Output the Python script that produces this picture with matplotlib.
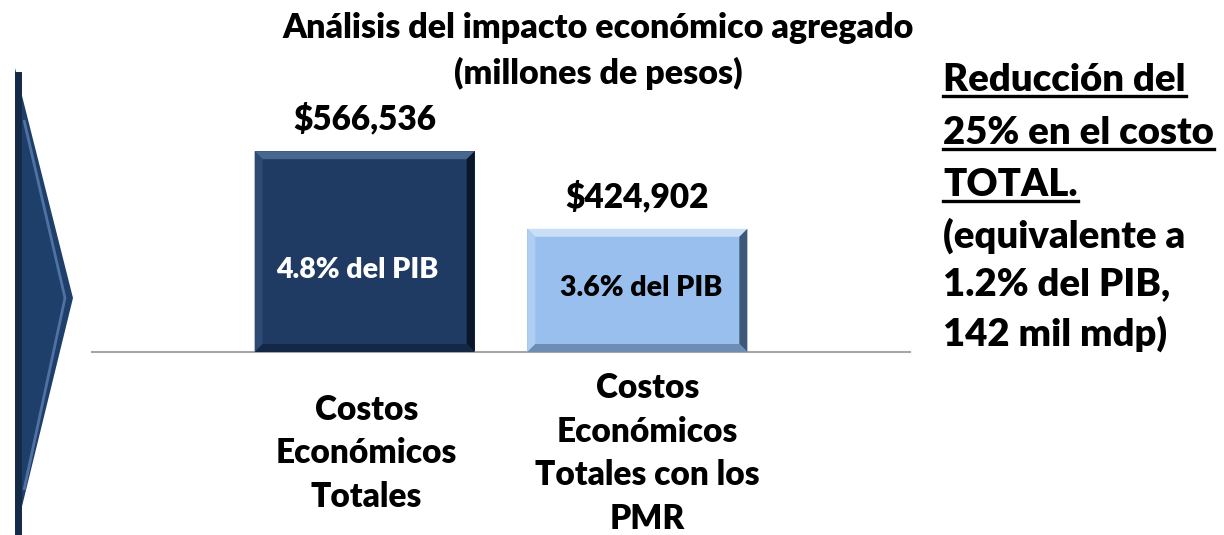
"""Análisis del impacto económico agregado: two bevelled bars plus side note."""

import matplotlib
matplotlib.use("Agg")
import matplotlib.pyplot as plt
from matplotlib.patches import Polygon
from matplotlib.transforms import IdentityTransform, ScaledTranslation

W, H = 1224, 535

categories = ["Costos\nEconómicos\nTotales", "Costos\nEconómicos\nTotales con los\nPMR"]
values = [566536, 424902]
value_labels = ["$566,536", "$424,902"]
pib_labels = ["4.8% del PIB", "3.6% del PIB"]
title_lines = ["Análisis del impacto económico agregado", "(millones de pesos)"]
note_underlined = ["Reducción del", "25% en el costo", "TOTAL."]
note_plain = ["(equivalente a", "1.2% del PIB,", "142 mil mdp)"]

FONT = "Lato"
plt.rcParams["font.family"] = [FONT, "DejaVu Sans"]
plt.rcParams["font.weight"] = "heavy"
WT = "heavy"

bar_colors = ["#1f3b64", "#99bfee"]
bevel_colors = [  # top, left, right, bottom
  ["#48678f", "#2c4a74", "#0b1628", "#142845"],
  ["#c9dff8", "#b0cdf2", "#3d5878", "#6e8db5"],
]
pib_colors = ["white", "black"]


def fig_xy(px, py):
  """pixel (from top-left) -> figure fraction"""
  return px / W, 1 - py / H


fig = plt.figure(figsize=(W / 100, H / 100), dpi=100)
ax = fig.add_axes([92 / W, (H - 352) / H, 818 / W, 252 / H])

x = list(range(len(values)))
bars = ax.bar(x, values, width=0.807, bottom=0, color=bar_colors, zorder=2)
ax.set_xlim(-1, 2)
ax.set_ylim(200000, 660000)

for s in ["top", "left", "right"]:
  ax.spines[s].set_visible(False)
ax.spines["bottom"].set_color("#a6a6a6")
ax.spines["bottom"].set_linewidth(1.5)
ax.set_yticks([])
ax.set_xticks(x)
ax.set_xticklabels(categories, fontsize=24, fontweight=WT, linespacing=1.45)
ax.tick_params(axis="x", length=0, pad=73)
label_dx = [2, 10]  # px nudge, as in the original slide
for lab, dx in zip(ax.get_xticklabels(), label_dx):
  lab.set_verticalalignment("center")
  lab.set_multialignment("center")
  lab.set_transform(lab.get_transform()
                    + ScaledTranslation(dx / 100, 0, fig.dpi_scale_trans))

# bevel edges drawn in display pixels around each bar
bev = 8
for bar, cols in zip(bars, bevel_colors):
  bb = bar.get_window_extent()
  x0, y0, x1, y1 = bb.x0, max(bb.y0, ax.get_window_extent().y0), bb.x1, bb.y1
  quads = [
    [(x0, y1), (x1, y1), (x1 - bev, y1 - bev), (x0 + bev, y1 - bev)],
    [(x0, y0), (x0, y1), (x0 + bev, y1 - bev), (x0 + bev, y0 + bev)],
    [(x1, y0), (x1, y1), (x1 - bev, y1 - bev), (x1 - bev, y0 + bev)],
    [(x0, y0), (x1, y0), (x1 - bev, y0 + bev), (x0 + bev, y0 + bev)],
  ]
  for q, c in zip(quads, cols):
    fig.add_artist(Polygon(q, closed=True, facecolor=c, edgecolor="none",
                           transform=IdentityTransform(), zorder=3))

# value labels above bars
for xi, v, lab in zip(x, values, value_labels):
  ax.annotate(lab, (xi, v), xytext=(0, 23), textcoords="offset points",
              ha="center", va="center", fontsize=24, fontweight=WT,
              annotation_clip=False)

# PIB share inside bars
pib_pos = [(-7, 0.41), (4, 0.52)]
for xi, v, lab, col, (dx, fr) in zip(x, values, pib_labels, pib_colors, pib_pos):
  ybase = ax.get_ylim()[0]
  ax.annotate(lab, (xi, ybase + (v - ybase) * fr), xytext=(dx * 0.72, 0),
              textcoords="offset points", ha="center", va="center",
              fontsize=20.5, fontweight=WT, color=col, zorder=5)

# title
for i, line in enumerate(title_lines):
  fig.text(*fig_xy(598, 28 + 45 * i), line, ha="center", va="center",
           fontsize=24.5, fontweight=WT)

# side note, first lines underlined
note_y = [80, 133, 185, 236, 284, 334]
lines = note_underlined + note_plain
texts = []
for yy, line in zip(note_y, lines):
  texts.append(fig.text(*fig_xy(943, yy), line, ha="left", va="center",
                        fontsize=27.5, fontweight=WT))
fig.canvas.draw()
r = fig.canvas.get_renderer()
for t in texts[:len(note_underlined)]:
  bb = t.get_window_extent(r)
  uy = bb.y0 + 1
  fig.add_artist(plt.Line2D([bb.x0, bb.x1], [uy, uy], color="black", lw=2.4,
                            transform=IdentityTransform()))

# chevron on the left
chev = [fig_xy(15, 68), fig_xy(73, 298), fig_xy(15, 535)]
fig.add_artist(Polygon(chev, closed=True, facecolor="#1f3f6b",
                       edgecolor="none", transform=fig.transFigure))
inner = [fig_xy(24, 120), fig_xy(65, 298), fig_xy(24, 490)]
fig.add_artist(Polygon(inner, closed=False, fill=False, edgecolor="#4f72a3",
                       lw=2, transform=fig.transFigure))
fig.add_artist(plt.Line2D(*zip(fig_xy(18, 75), fig_xy(18, 535)), color="#142a47",
                          lw=5, transform=fig.transFigure))

fig.savefig("out.png", dpi=100)
